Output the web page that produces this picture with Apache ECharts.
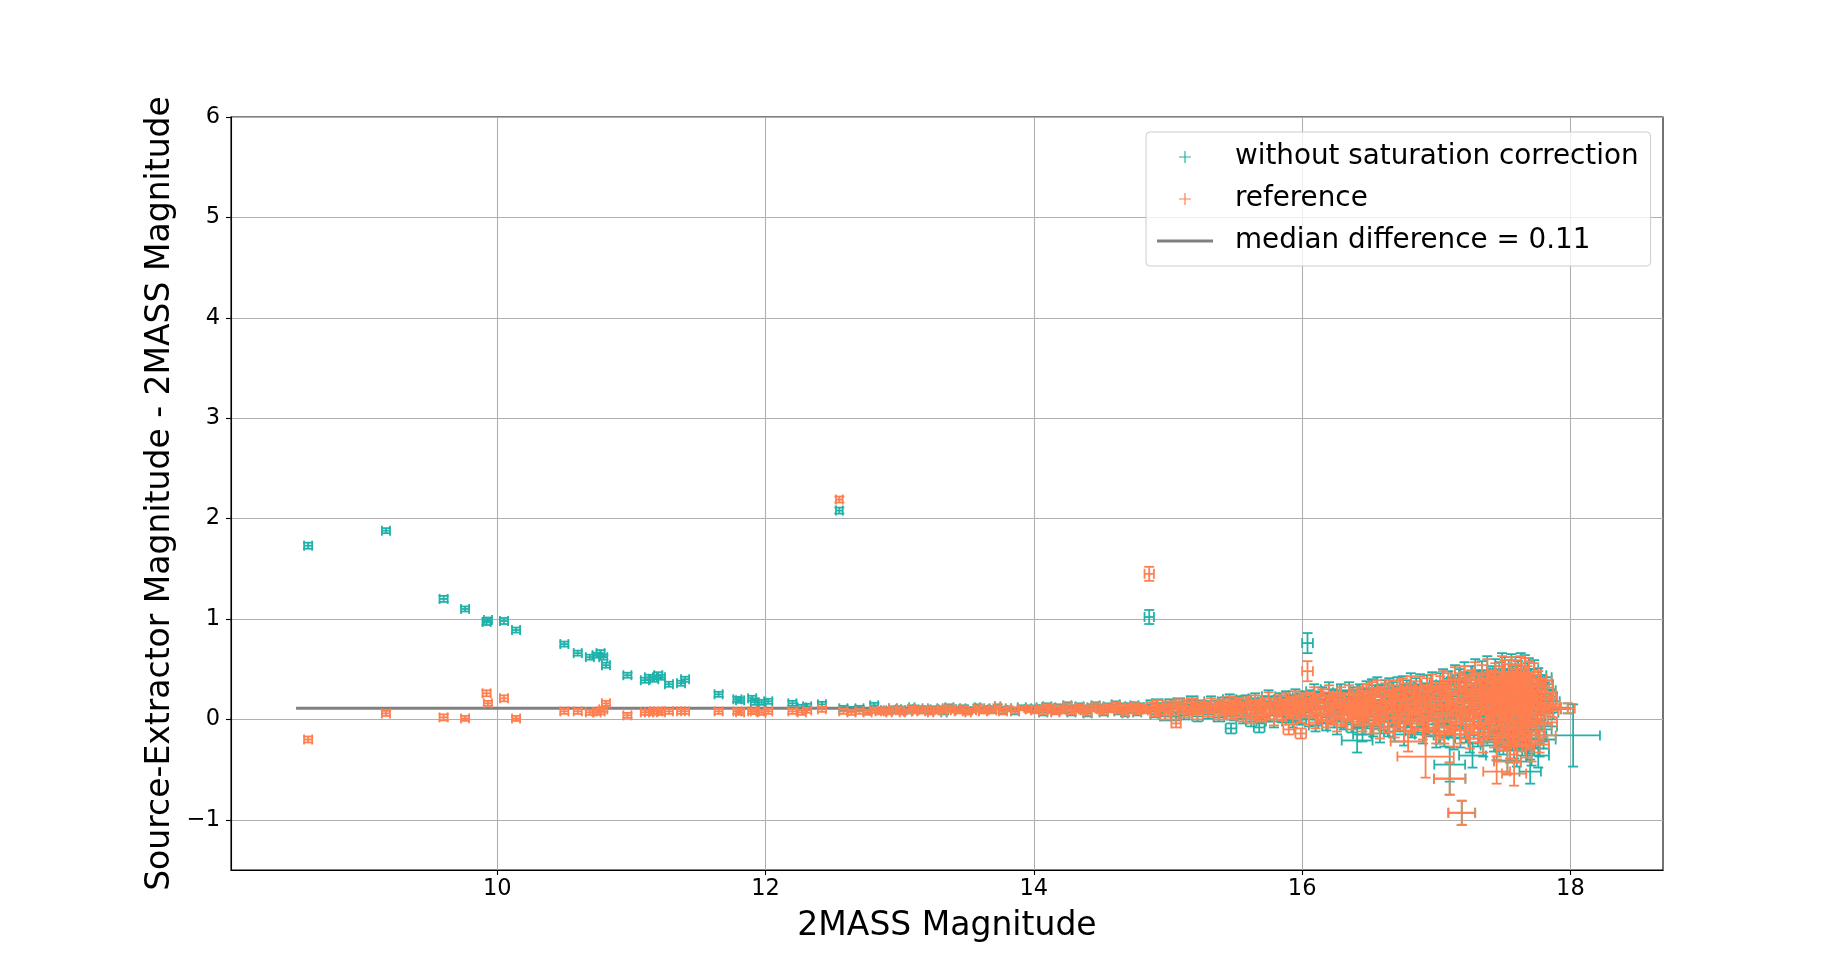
<!DOCTYPE html>
<html>
<head>
<meta charset="utf-8">
<title>Source-Extractor vs 2MASS magnitude</title>
<script src="https://cdn.jsdelivr.net/npm/echarts@6/dist/echarts.min.js"></script>
<style>
  html, body { margin: 0; padding: 0; background: #fff; }
  #chart { width: 1848px; height: 977px; }
</style>
</head>
<body>
<div id="chart"></div>
<script>
// ---- data ----
// one entry per star: 2MASS magnitude, its error, the two differences and the difference error
var mag2mass = [
  // bright stars
  8.59, 9.17, 9.60, 9.76, 9.92, 9.93, 10.05, 10.14, 10.50, 10.60,
  10.69, 10.74, 10.77, 10.79, 10.81, 10.97, 11.10, 11.13, 11.17, 11.20,
  11.22, 11.28, 11.37, 11.40, 11.65, 11.79, 11.81, 11.90, 11.92, 11.97,
  12.02, 12.20, 12.27, 12.31, 12.42, 12.55, 12.58, 12.64, 12.70, 12.76,
  12.81, 12.85,
  // 12.9 - 14
  12.88, 12.92, 12.95, 12.99, 13.02, 13.06, 13.09, 13.12, 13.16, 13.19,
  13.23, 13.26, 13.30, 13.33, 13.37, 13.40, 13.44, 13.47, 13.51, 13.54,
  13.58, 13.62, 13.65, 13.69, 13.73, 13.77, 13.81, 13.86, 13.91, 13.96,
  // 14 - 14.8
  14.01, 14.04, 14.07, 14.10, 14.13, 14.16, 14.19, 14.22, 14.25, 14.28,
  14.31, 14.34, 14.37, 14.40, 14.43, 14.46, 14.49, 14.52, 14.55, 14.58,
  14.61, 14.63, 14.66, 14.68, 14.71, 14.73, 14.75, 14.77, 14.79, 14.82,
  // 14.8 - 15.5
  14.84, 14.88, 14.90, 14.92, 14.94, 14.96, 14.98, 15.00, 15.02, 15.04,
  15.08, 15.10, 15.12, 15.14, 15.16, 15.18, 15.20, 15.22, 15.24, 15.26,
  15.28, 15.30, 15.32, 15.34, 15.36, 15.38, 15.40, 15.42, 15.44, 15.46,
  15.48, 15.49, 15.50, 15.51, 15.53,
  // 15.5 - 16
  15.55, 15.56, 15.58, 15.59, 15.61, 15.62, 15.64, 15.65, 15.67, 15.69,
  15.70, 15.72, 15.73, 15.75, 15.76, 15.78, 15.79, 15.81, 15.82, 15.84,
  15.85, 15.86, 15.88, 15.89, 15.90, 15.92, 15.93, 15.94, 15.95, 15.96,
  15.97, 15.98, 15.99, 16.00, 16.01,
  // 16 - 16.5
  16.03, 16.05, 16.06, 16.07, 16.09, 16.10, 16.11, 16.13, 16.14, 16.15,
  16.16, 16.18, 16.19, 16.20, 16.21, 16.23, 16.24, 16.25, 16.26, 16.28,
  16.29, 16.30, 16.31, 16.32, 16.34, 16.35, 16.36, 16.37, 16.38, 16.40,
  16.41, 16.42, 16.43, 16.44, 16.45, 16.46, 16.47, 16.48, 16.49, 16.50,
  // 16.5 - 17
  16.51, 16.52, 16.53, 16.54, 16.55, 16.56, 16.57, 16.58, 16.59, 16.60,
  16.61, 16.62, 16.63, 16.64, 16.65, 16.66, 16.67, 16.68, 16.69, 16.70,
  16.71, 16.72, 16.73, 16.74, 16.75, 16.76, 16.77, 16.78, 16.79, 16.80,
  16.81, 16.82, 16.83, 16.84, 16.85, 16.86, 16.87, 16.88, 16.89, 16.90,
  16.91, 16.92, 16.93, 16.94, 16.95, 16.96, 16.97, 16.98, 16.99, 17.00,
  // 17 - 17.5
  17.01, 17.02, 17.03, 17.04, 17.05, 17.06, 17.07, 17.08, 17.09, 17.10,
  17.11, 17.12, 17.13, 17.14, 17.15, 17.16, 17.17, 17.18, 17.19, 17.20,
  17.21, 17.22, 17.23, 17.24, 17.25, 17.26, 17.27, 17.28, 17.29, 17.30,
  17.31, 17.32, 17.33, 17.34, 17.35, 17.36, 17.37, 17.38, 17.39, 17.40,
  17.41, 17.42, 17.43, 17.43, 17.44, 17.45, 17.45, 17.46, 17.47, 17.47,
  17.48, 17.48, 17.49, 17.49, 17.50, 17.50, 17.51, 17.51, 17.52, 17.52,
  // 17.5 - 17.9
  17.53, 17.53, 17.54, 17.54, 17.55, 17.55, 17.56, 17.56, 17.57, 17.57,
  17.58, 17.58, 17.59, 17.59, 17.60, 17.60, 17.61, 17.61, 17.62, 17.62,
  17.63, 17.63, 17.64, 17.64, 17.65, 17.65, 17.66, 17.66, 17.67, 17.67,
  17.68, 17.68, 17.69, 17.69, 17.70, 17.71, 17.71, 17.72, 17.73, 17.74,
  17.75, 17.76, 17.77, 17.78, 17.79, 17.80, 17.81, 17.83, 17.85, 17.87,
  // outliers
  14.86, 15.06, 15.47, 15.68, 15.90, 15.99, 16.04, 16.41, 16.45, 16.79,
  16.92, 17.10, 17.10, 17.19, 17.27, 17.45, 17.53, 17.58, 17.70, 17.76,
  17.98, 18.02
];

var diffNoSatCorr = [
  1.73, 1.88, 1.20, 1.10, 0.97, 0.99, 0.98, 0.89, 0.75, 0.66,
  0.62, 0.64, 0.66, 0.62, 0.54, 0.44, 0.39, 0.42, 0.40, 0.44,
  0.42, 0.35, 0.36, 0.40, 0.25, 0.20, 0.19, 0.21, 0.17, 0.17,
  0.18, 0.16, 0.12, 0.13, 0.15, 2.08, 0.11, 0.10, 0.11, 0.09,
  0.14, 0.09,
  0.09, 0.08, 0.11, 0.10, 0.09, 0.08, 0.12, 0.10, 0.09, 0.11,
  0.08, 0.10, 0.11, 0.07, 0.12, 0.10, 0.09, 0.11, 0.08, 0.10,
  0.12, 0.09, 0.11, 0.10, 0.13, 0.09, 0.11, 0.08, 0.12, 0.11,
  0.10, 0.12, 0.07, 0.13, 0.11, 0.08, 0.12, 0.10, 0.14, 0.07,
  0.11, 0.13, 0.10, 0.06, 0.12, 0.14, 0.11, 0.07, 0.13, 0.11,
  0.15, 0.08, 0.12, 0.06, 0.13, 0.11, 0.14, 0.07, 0.12, 0.10,
  0.11, 0.15, 0.05, 0.16, 0.10, 0.13, 0.03, 0.12, 0.16, 0.07,
  0.17, 0.11, 0.04, 0.14, 0.10, 0.19, 0.12, 0.03, 0.15, 0.11,
  0.13, 0.05, 0.18, 0.11, 0.14, 0.02, 0.12, 0.17, 0.07, 0.20,
  0.13, 0.04, 0.16, 0.11, 0.18,
  0.13, 0.01, 0.19, 0.10, 0.15, -0.02, 0.12, 0.21, 0.06, 0.14,
  0.02, 0.18, 0.11, 0.23, 0.04, 0.13, -0.02, 0.17, 0.10, 0.20,
  0.03, 0.14, 0.22, 0.07, 0.12, 0.18, -0.01, 0.15, 0.24, 0.05,
  0.13, 0.19, 0.02, 0.11, 0.21,
  0.15, 0.00, 0.23, 0.10, 0.28, -0.06, 0.13, 0.20, 0.04, 0.25,
  0.11, -0.04, 0.18, 0.30, 0.02, 0.14, 0.22, 0.06, -0.08, 0.17,
  0.27, 0.12, -0.02, 0.20, 0.05, 0.29, 0.14, -0.05, 0.23, 0.10,
  0.18, 0.01, 0.27, 0.13, -0.07, 0.21, 0.06, 0.30, 0.15, 0.03,
  0.13, 0.31, -0.09, 0.19, 0.02, 0.34, 0.10, -0.14, 0.24, 0.15,
  -0.02, 0.29, 0.11, -0.07, 0.31, 0.20, 0.04, 0.27, -0.12, 0.14,
  0.32, -0.01, 0.21, 0.07, 0.33, -0.15, 0.16, 0.28, 0.03, 0.12,
  0.35, -0.08, 0.22, 0.10, 0.30, -0.04, 0.17, 0.34, 0.05, -0.13,
  0.25, 0.13, 0.33, -0.05, 0.20, 0.11, 0.35, 0.01, 0.23, -0.16,
  0.17, -0.12, 0.35, 0.04, 0.38, -0.16, 0.23, 0.08, 0.35, -0.06,
  0.30, 0.14, -0.18, 0.41, 0.02, 0.26, 0.37, -0.15, 0.20, 0.06,
  0.44, -0.09, 0.32, 0.13, -0.19, 0.40, 0.22, -0.02, 0.47, 0.18,
  -0.13, 0.33, 0.05, 0.43, -0.23, 0.25, 0.10, 0.49, -0.07, 0.29,
  0.15, 0.39, -0.17, 0.03, 0.45, 0.21, -0.26, 0.31, 0.07, 0.42,
  -0.10, 0.24, 0.50, 0.00, 0.34, -0.20, 0.19, 0.46, -0.05, 0.27,
  0.20, -0.14, 0.44, 0.03, 0.31, -0.28, 0.49, 0.14, -0.08, 0.37,
  0.23, -0.22, 0.46, 0.06, 0.33, -0.31, 0.17, 0.41, -0.12, 0.26,
  0.00, 0.50, -0.19, 0.21, 0.36, -0.06, 0.47, 0.12, -0.25, 0.30,
  0.39, 0.04, -0.16, 0.44, 0.18, -0.29, 0.32, 0.13, 0.42, -0.10,
  0.25, 0.35, -0.20, 0.15, 0.29, -0.07, 0.23, 0.07, 0.18, 0.10,
  1.02, 0.03, -0.09, -0.08, 0.02, 0.00, 0.76, -0.21, -0.15, 0.03,
  0.06, -0.45, -0.59, -0.93, -0.36, 0.00, -0.41, 0.02, -0.52, -0.36,
  0.11, -0.16
];

var diffReference = [
  -0.20, 0.06, 0.02, 0.01, 0.26, 0.16, 0.21, 0.01, 0.08, 0.08,
  0.07, 0.07, 0.08, 0.10, 0.16, 0.04, 0.07, 0.07, 0.08, 0.08,
  0.07, 0.08, 0.08, 0.08, 0.08, 0.08, 0.07, 0.08, 0.08, 0.07,
  0.08, 0.08, 0.07, 0.09, 0.10, 2.19, 0.08, 0.07, 0.08, 0.07,
  0.09, 0.08,
  0.08, 0.07, 0.10, 0.09, 0.07, 0.08, 0.11, 0.09, 0.08, 0.10,
  0.07, 0.09, 0.10, 0.08, 0.11, 0.09, 0.08, 0.10, 0.07, 0.09,
  0.11, 0.08, 0.10, 0.09, 0.12, 0.08, 0.10, 0.09, 0.11, 0.10,
  0.09, 0.11, 0.08, 0.12, 0.10, 0.07, 0.11, 0.09, 0.13, 0.08,
  0.10, 0.12, 0.09, 0.07, 0.11, 0.13, 0.10, 0.08, 0.12, 0.10,
  0.14, 0.09, 0.11, 0.07, 0.12, 0.10, 0.13, 0.08, 0.11, 0.09,
  0.10, 0.13, 0.06, 0.15, 0.09, 0.12, 0.04, 0.11, 0.14, 0.08,
  0.16, 0.10, 0.06, 0.13, 0.09, 0.17, 0.11, 0.05, 0.14, 0.10,
  0.12, 0.07, 0.16, 0.10, 0.13, 0.04, 0.11, 0.15, 0.08, 0.18,
  0.12, 0.06, 0.14, 0.10, 0.16,
  0.12, 0.03, 0.17, 0.09, 0.14, 0.01, 0.11, 0.19, 0.07, 0.13,
  0.04, 0.16, 0.10, 0.21, 0.06, 0.12, 0.00, 0.15, 0.09, 0.18,
  0.05, 0.13, 0.20, 0.08, 0.11, 0.16, 0.02, 0.14, 0.22, 0.07,
  0.12, 0.17, 0.04, 0.10, 0.19,
  0.14, 0.02, 0.21, 0.09, 0.25, -0.03, 0.12, 0.18, 0.06, 0.23,
  0.10, -0.01, 0.16, 0.27, 0.04, 0.13, 0.20, 0.08, -0.05, 0.15,
  0.24, 0.11, 0.01, 0.18, 0.07, 0.26, 0.13, -0.02, 0.21, 0.09,
  0.16, 0.03, 0.24, 0.12, -0.04, 0.19, 0.08, 0.27, 0.14, 0.05,
  0.12, 0.28, -0.06, 0.17, 0.04, 0.31, 0.09, -0.10, 0.22, 0.14,
  0.01, 0.26, 0.10, -0.03, 0.29, 0.18, 0.06, 0.24, -0.08, 0.13,
  0.29, 0.02, 0.19, 0.08, 0.31, -0.11, 0.15, 0.25, 0.05, 0.11,
  0.32, -0.04, 0.20, 0.09, 0.27, 0.00, 0.16, 0.32, 0.07, -0.09,
  0.23, 0.12, 0.30, -0.01, 0.18, 0.10, 0.33, 0.03, 0.21, -0.12,
  0.15, -0.08, 0.32, 0.06, 0.36, -0.13, 0.21, 0.10, 0.33, -0.02,
  0.27, 0.13, -0.15, 0.39, 0.04, 0.24, 0.33, -0.11, 0.18, 0.08,
  0.40, -0.05, 0.29, 0.12, -0.15, 0.36, 0.20, 0.01, 0.44, 0.16,
  -0.09, 0.30, 0.07, 0.39, -0.19, 0.23, 0.11, 0.46, -0.03, 0.26,
  0.14, 0.35, -0.13, 0.05, 0.41, 0.19, -0.22, 0.28, 0.09, 0.38,
  -0.06, 0.22, 0.47, 0.02, 0.31, -0.16, 0.17, 0.43, -0.01, 0.25,
  0.18, -0.10, 0.40, 0.05, 0.28, -0.24, 0.46, 0.12, -0.04, 0.34,
  0.21, -0.18, 0.43, 0.08, 0.30, -0.27, 0.15, 0.38, -0.08, 0.24,
  0.02, 0.47, -0.15, 0.19, 0.33, -0.02, 0.44, 0.10, -0.21, 0.27,
  0.36, 0.06, -0.12, 0.41, 0.16, -0.25, 0.29, 0.11, 0.39, -0.06,
  0.22, 0.32, -0.16, 0.13, 0.26, -0.03, 0.20, 0.09, 0.15, 0.12,
  1.45, -0.04, 0.05, 0.03, -0.10, -0.14, 0.48, 0.06, 0.08, -0.22,
  -0.37, 0.10, -0.59, -0.93, 0.05, -0.52, -0.42, -0.54, 0.05, 0.10,
  0.11, null
];

var magErr = [
  0.03, 0.03, 0.03, 0.03, 0.03, 0.03, 0.03, 0.03, 0.03, 0.03,
  0.03, 0.03, 0.03, 0.03, 0.03, 0.03, 0.03, 0.03, 0.03, 0.03,
  0.03, 0.03, 0.03, 0.03, 0.03, 0.03, 0.03, 0.03, 0.03, 0.03,
  0.03, 0.03, 0.03, 0.03, 0.03, 0.025, 0.03, 0.03, 0.03, 0.03,
  0.03, 0.03,
  0.02, 0.02, 0.03, 0.02, 0.02, 0.03, 0.02, 0.02, 0.03, 0.02,
  0.02, 0.03, 0.02, 0.02, 0.03, 0.02, 0.03, 0.02, 0.02, 0.03,
  0.02, 0.03, 0.02, 0.03, 0.02, 0.03, 0.02, 0.03, 0.03, 0.02,
  0.03, 0.02, 0.03, 0.03, 0.02, 0.03, 0.03, 0.02, 0.03, 0.03,
  0.03, 0.03, 0.02, 0.03, 0.03, 0.03, 0.02, 0.03, 0.03, 0.03,
  0.03, 0.03, 0.03, 0.02, 0.03, 0.03, 0.03, 0.03, 0.03, 0.03,
  0.03, 0.04, 0.03, 0.04, 0.03, 0.04, 0.04, 0.03, 0.04, 0.04,
  0.04, 0.03, 0.04, 0.04, 0.04, 0.04, 0.03, 0.04, 0.04, 0.04,
  0.04, 0.04, 0.05, 0.04, 0.04, 0.04, 0.05, 0.04, 0.04, 0.05,
  0.04, 0.05, 0.04, 0.05, 0.05,
  0.04, 0.05, 0.04, 0.05, 0.05, 0.04, 0.05, 0.05, 0.05, 0.04,
  0.05, 0.05, 0.05, 0.05, 0.05, 0.05, 0.06, 0.05, 0.05, 0.05,
  0.06, 0.05, 0.05, 0.06, 0.05, 0.06, 0.05, 0.06, 0.05, 0.06,
  0.06, 0.05, 0.06, 0.06, 0.05,
  0.05, 0.06, 0.05, 0.06, 0.06, 0.05, 0.06, 0.06, 0.06, 0.07,
  0.06, 0.06, 0.07, 0.06, 0.07, 0.06, 0.07, 0.06, 0.07, 0.07,
  0.06, 0.07, 0.07, 0.07, 0.06, 0.07, 0.07, 0.08, 0.07, 0.07,
  0.07, 0.08, 0.07, 0.07, 0.08, 0.07, 0.08, 0.07, 0.08, 0.08,
  0.06, 0.07, 0.06, 0.07, 0.07, 0.06, 0.07, 0.07, 0.08, 0.07,
  0.07, 0.08, 0.07, 0.07, 0.08, 0.07, 0.08, 0.07, 0.08, 0.08,
  0.07, 0.08, 0.08, 0.07, 0.08, 0.08, 0.08, 0.09, 0.08, 0.08,
  0.08, 0.09, 0.08, 0.08, 0.09, 0.08, 0.09, 0.08, 0.09, 0.09,
  0.08, 0.09, 0.09, 0.08, 0.09, 0.09, 0.09, 0.09, 0.08, 0.09,
  0.08, 0.09, 0.08, 0.09, 0.09, 0.08, 0.09, 0.10, 0.09, 0.09,
  0.10, 0.09, 0.10, 0.09, 0.10, 0.10, 0.09, 0.10, 0.10, 0.10,
  0.10, 0.11, 0.10, 0.10, 0.11, 0.10, 0.11, 0.10, 0.11, 0.11,
  0.10, 0.11, 0.11, 0.11, 0.11, 0.11, 0.12, 0.11, 0.11, 0.12,
  0.11, 0.12, 0.11, 0.12, 0.12, 0.11, 0.12, 0.12, 0.11, 0.12,
  0.12, 0.12, 0.11, 0.12, 0.12, 0.12, 0.13, 0.12, 0.12, 0.13,
  0.11, 0.12, 0.11, 0.12, 0.12, 0.11, 0.12, 0.12, 0.11, 0.12,
  0.12, 0.12, 0.11, 0.12, 0.12, 0.13, 0.12, 0.12, 0.13, 0.12,
  0.12, 0.13, 0.12, 0.13, 0.12, 0.13, 0.12, 0.13, 0.13, 0.12,
  0.13, 0.13, 0.12, 0.13, 0.13, 0.13, 0.12, 0.13, 0.13, 0.12,
  0.12, 0.11, 0.12, 0.11, 0.10, 0.10, 0.09, 0.08, 0.07, 0.06,
  0.035, 0.035, 0.04, 0.04, 0.04, 0.04, 0.04, 0.115, 0.07, 0.13,
  0.21, 0.115, 0.117, 0.10, 0.10, 0.10, 0.10, 0.09, 0.08, 0.08,
  0.05, 0.20
];

var diffErr = [
  0.03, 0.025, 0.03, 0.025, 0.03, 0.025, 0.03, 0.025, 0.025, 0.025,
  0.025, 0.025, 0.03, 0.025, 0.025, 0.025, 0.025, 0.025, 0.025, 0.03,
  0.025, 0.025, 0.025, 0.025, 0.025, 0.025, 0.025, 0.025, 0.025, 0.025,
  0.025, 0.025, 0.025, 0.025, 0.025, 0.03, 0.025, 0.025, 0.025, 0.025,
  0.025, 0.025,
  0.02, 0.02, 0.02, 0.03, 0.02, 0.02, 0.02, 0.03, 0.02, 0.02,
  0.02, 0.03, 0.02, 0.02, 0.03, 0.02, 0.02, 0.03, 0.02, 0.02,
  0.03, 0.02, 0.02, 0.03, 0.02, 0.03, 0.02, 0.03, 0.02, 0.03,
  0.03, 0.02, 0.03, 0.03, 0.03, 0.02, 0.03, 0.03, 0.03, 0.03,
  0.03, 0.03, 0.03, 0.03, 0.03, 0.03, 0.03, 0.03, 0.03, 0.03,
  0.03, 0.03, 0.04, 0.03, 0.03, 0.04, 0.03, 0.03, 0.04, 0.03,
  0.03, 0.04, 0.03, 0.04, 0.04, 0.03, 0.04, 0.04, 0.04, 0.04,
  0.04, 0.04, 0.04, 0.05, 0.04, 0.04, 0.04, 0.05, 0.04, 0.04,
  0.05, 0.04, 0.05, 0.04, 0.05, 0.04, 0.05, 0.05, 0.04, 0.05,
  0.05, 0.05, 0.05, 0.04, 0.05,
  0.05, 0.05, 0.05, 0.06, 0.05, 0.05, 0.06, 0.05, 0.06, 0.05,
  0.06, 0.05, 0.06, 0.06, 0.06, 0.05, 0.06, 0.06, 0.06, 0.06,
  0.06, 0.06, 0.06, 0.07, 0.06, 0.06, 0.07, 0.06, 0.06, 0.07,
  0.06, 0.07, 0.07, 0.06, 0.07,
  0.06, 0.07, 0.06, 0.07, 0.07, 0.06, 0.07, 0.07, 0.07, 0.07,
  0.07, 0.07, 0.08, 0.07, 0.07, 0.08, 0.07, 0.08, 0.07, 0.08,
  0.08, 0.07, 0.08, 0.08, 0.08, 0.08, 0.08, 0.08, 0.09, 0.08,
  0.08, 0.09, 0.08, 0.09, 0.08, 0.09, 0.09, 0.08, 0.09, 0.09,
  0.08, 0.09, 0.08, 0.09, 0.09, 0.08, 0.09, 0.09, 0.10, 0.09,
  0.09, 0.10, 0.09, 0.10, 0.10, 0.09, 0.10, 0.10, 0.10, 0.10,
  0.10, 0.10, 0.11, 0.10, 0.10, 0.11, 0.10, 0.11, 0.10, 0.11,
  0.11, 0.10, 0.11, 0.11, 0.11, 0.11, 0.11, 0.11, 0.12, 0.11,
  0.11, 0.12, 0.11, 0.12, 0.11, 0.12, 0.12, 0.12, 0.12, 0.12,
  0.11, 0.12, 0.11, 0.12, 0.12, 0.11, 0.12, 0.12, 0.13, 0.12,
  0.12, 0.13, 0.12, 0.13, 0.13, 0.12, 0.13, 0.13, 0.13, 0.13,
  0.13, 0.14, 0.13, 0.13, 0.14, 0.13, 0.14, 0.14, 0.13, 0.14,
  0.14, 0.14, 0.14, 0.15, 0.14, 0.14, 0.15, 0.14, 0.15, 0.15,
  0.15, 0.14, 0.15, 0.15, 0.15, 0.16, 0.15, 0.15, 0.16, 0.15,
  0.16, 0.15, 0.16, 0.16, 0.16, 0.15, 0.16, 0.16, 0.16, 0.16,
  0.15, 0.16, 0.15, 0.16, 0.16, 0.15, 0.16, 0.16, 0.17, 0.16,
  0.16, 0.17, 0.16, 0.17, 0.17, 0.16, 0.17, 0.17, 0.17, 0.17,
  0.17, 0.16, 0.17, 0.18, 0.17, 0.17, 0.17, 0.18, 0.17, 0.18,
  0.17, 0.18, 0.18, 0.17, 0.18, 0.17, 0.18, 0.18, 0.17, 0.18,
  0.17, 0.16, 0.17, 0.16, 0.15, 0.15, 0.14, 0.13, 0.12, 0.10,
  0.07, 0.04, 0.05, 0.05, 0.05, 0.05, 0.10, 0.12, 0.07, 0.10,
  0.21, 0.17, 0.16, 0.12, 0.12, 0.12, 0.13, 0.12, 0.12, 0.12,
  0.05, 0.31
];

var medianDiff = 0.11;
var medianSpan = [8.5, 18.0];

var xTicks = [10, 12, 14, 16, 18];
var yTicks = [-1, 0, 1, 2, 3, 4, 5, 6];

var nameNoSat = 'without saturation correction';
var nameRef = 'reference';
var nameMedian = 'median difference = ' + medianDiff.toFixed(2);

var tealColor = '#20b2aa';
var coralColor = '#ff7f50';

if (mag2mass.length !== diffNoSatCorr.length || mag2mass.length !== diffReference.length ||
    mag2mass.length !== magErr.length || mag2mass.length !== diffErr.length) {
  console.error('array lengths differ', mag2mass.length, diffNoSatCorr.length,
    diffReference.length, magErr.length, diffErr.length);
}

// [mag, diff, magErr, diffErr] rows for the custom series
function rows(diffs) {
  var out = [];
  for (var i = 0; i < mag2mass.length; i++) {
    if (diffs[i] == null) continue;
    out.push([mag2mass[i], diffs[i], magErr[i], diffErr[i]]);
  }
  return out;
}

// matplotlib-like errorbar with caps
function errorBar(color) {
  return function (params, api) {
    var x = api.value(0), y = api.value(1), ex = api.value(2), ey = api.value(3);
    var c = api.coord([x, y]);
    var xl = api.coord([x - ex, y])[0], xr = api.coord([x + ex, y])[0];
    var yt = api.coord([x, y + ey])[1], yb = api.coord([x, y - ey])[1];
    var cap = 5;
    function seg(x1, y1, x2, y2) {
      return { type: 'line', shape: { x1: x1, y1: y1, x2: x2, y2: y2 },
               style: { stroke: color, lineWidth: 1.8 } };
    }
    return {
      type: 'group',
      children: [
        seg(xl, c[1], xr, c[1]),
        seg(c[0], yt, c[0], yb),
        seg(xl, c[1] - cap, xl, c[1] + cap),
        seg(xr, c[1] - cap, xr, c[1] + cap),
        seg(c[0] - cap, yt, c[0] + cap, yt),
        seg(c[0] - cap, yb, c[0] + cap, yb)
      ]
    };
  };
}

var plusIcon = 'path://M5.4,0H6.6V5.4H12V6.6H6.6V12H5.4V6.6H0V5.4H5.4Z';
var lineIcon = 'path://M0,0H56V3H0Z';

function minusFmt(v) {
  return v < 0 ? '\u2212' + (-v) : String(v);
}

var chart = echarts.init(document.getElementById('chart'));

chart.setOption({
  animation: false,
  backgroundColor: '#ffffff',
  textStyle: { fontFamily: 'DejaVu Sans' },
  grid: {
    left: 231, right: 185, top: 117, bottom: 107,
    show: true, borderColor: '#000', borderWidth: 1.1,
    backgroundColor: 'transparent',
    outerBoundsMode: 'none'
  },
  legend: {
    orient: 'vertical',
    left: 1146, top: 132,
    padding: [10, 12, 10, 11],
    itemWidth: 56, itemHeight: 12, itemGap: 12,
    backgroundColor: 'rgba(255,255,255,0.8)',
    borderColor: '#cccccc', borderWidth: 1, borderRadius: 4,
    selectedMode: false,
    textStyle: { fontSize: 27.8, color: '#000', lineHeight: 30, padding: [0, 0, 0, 17] },
    data: [
      { name: nameNoSat, icon: plusIcon },
      { name: nameRef, icon: plusIcon },
      { name: nameMedian, icon: lineIcon }
    ]
  },
  xAxis: {
    type: 'value',
    min: 8.015, max: 18.69,
    name: '2MASS Magnitude',
    nameLocation: 'middle', nameGap: 40, nameMoveOverlap: false,
    nameTextStyle: { fontSize: 33, color: '#000' },
    axisLine: { show: true, onZero: false, lineStyle: { color: '#000', width: 1.1 } },
    axisTick: { show: true, length: 5, customValues: xTicks, lineStyle: { color: '#000', width: 1.1 } },
    axisLabel: { customValues: xTicks, fontSize: 22.5, color: '#000', margin: 8 },
    splitLine: { show: true, lineStyle: { color: '#b0b0b0', width: 1.1 } }
  },
  yAxis: {
    type: 'value',
    min: -1.5, max: 6,
    name: 'Source-Extractor Magnitude - 2MASS Magnitude',
    nameLocation: 'middle', nameGap: 54, nameMoveOverlap: false,
    nameTextStyle: { fontSize: 33, color: '#000' },
    axisLine: { show: true, onZero: false, lineStyle: { color: '#000', width: 1.1 } },
    axisTick: { show: true, length: 5, customValues: yTicks, lineStyle: { color: '#000', width: 1.1 } },
    axisLabel: { customValues: yTicks, fontSize: 22.5, color: '#000', margin: 11, formatter: minusFmt },
    splitLine: { show: true, lineStyle: { color: '#b0b0b0', width: 1.1 } }
  },
  series: [
    {
      name: nameNoSat,
      type: 'custom',
      z: 1,
      renderItem: errorBar(tealColor),
      itemStyle: { color: tealColor },
      dimensions: ['mag', 'diff', 'magErr', 'diffErr'],
      encode: { x: 0, y: 1 },
      data: rows(diffNoSatCorr),
      clip: true
    },
    {
      name: nameMedian,
      type: 'line',
      z: 2,
      color: '#808080',
      itemStyle: { color: '#808080' },
      lineStyle: { color: '#808080', width: 3 },
      showSymbol: false,
      symbol: 'none',
      data: [[medianSpan[0], medianDiff], [medianSpan[1], medianDiff]]
    },
    {
      name: nameRef,
      type: 'custom',
      z: 3,
      renderItem: errorBar(coralColor),
      itemStyle: { color: coralColor },
      dimensions: ['mag', 'diff', 'magErr', 'diffErr'],
      encode: { x: 0, y: 1 },
      data: rows(diffReference),
      clip: true
    }
  ]
});
</script>
</body>
</html>
